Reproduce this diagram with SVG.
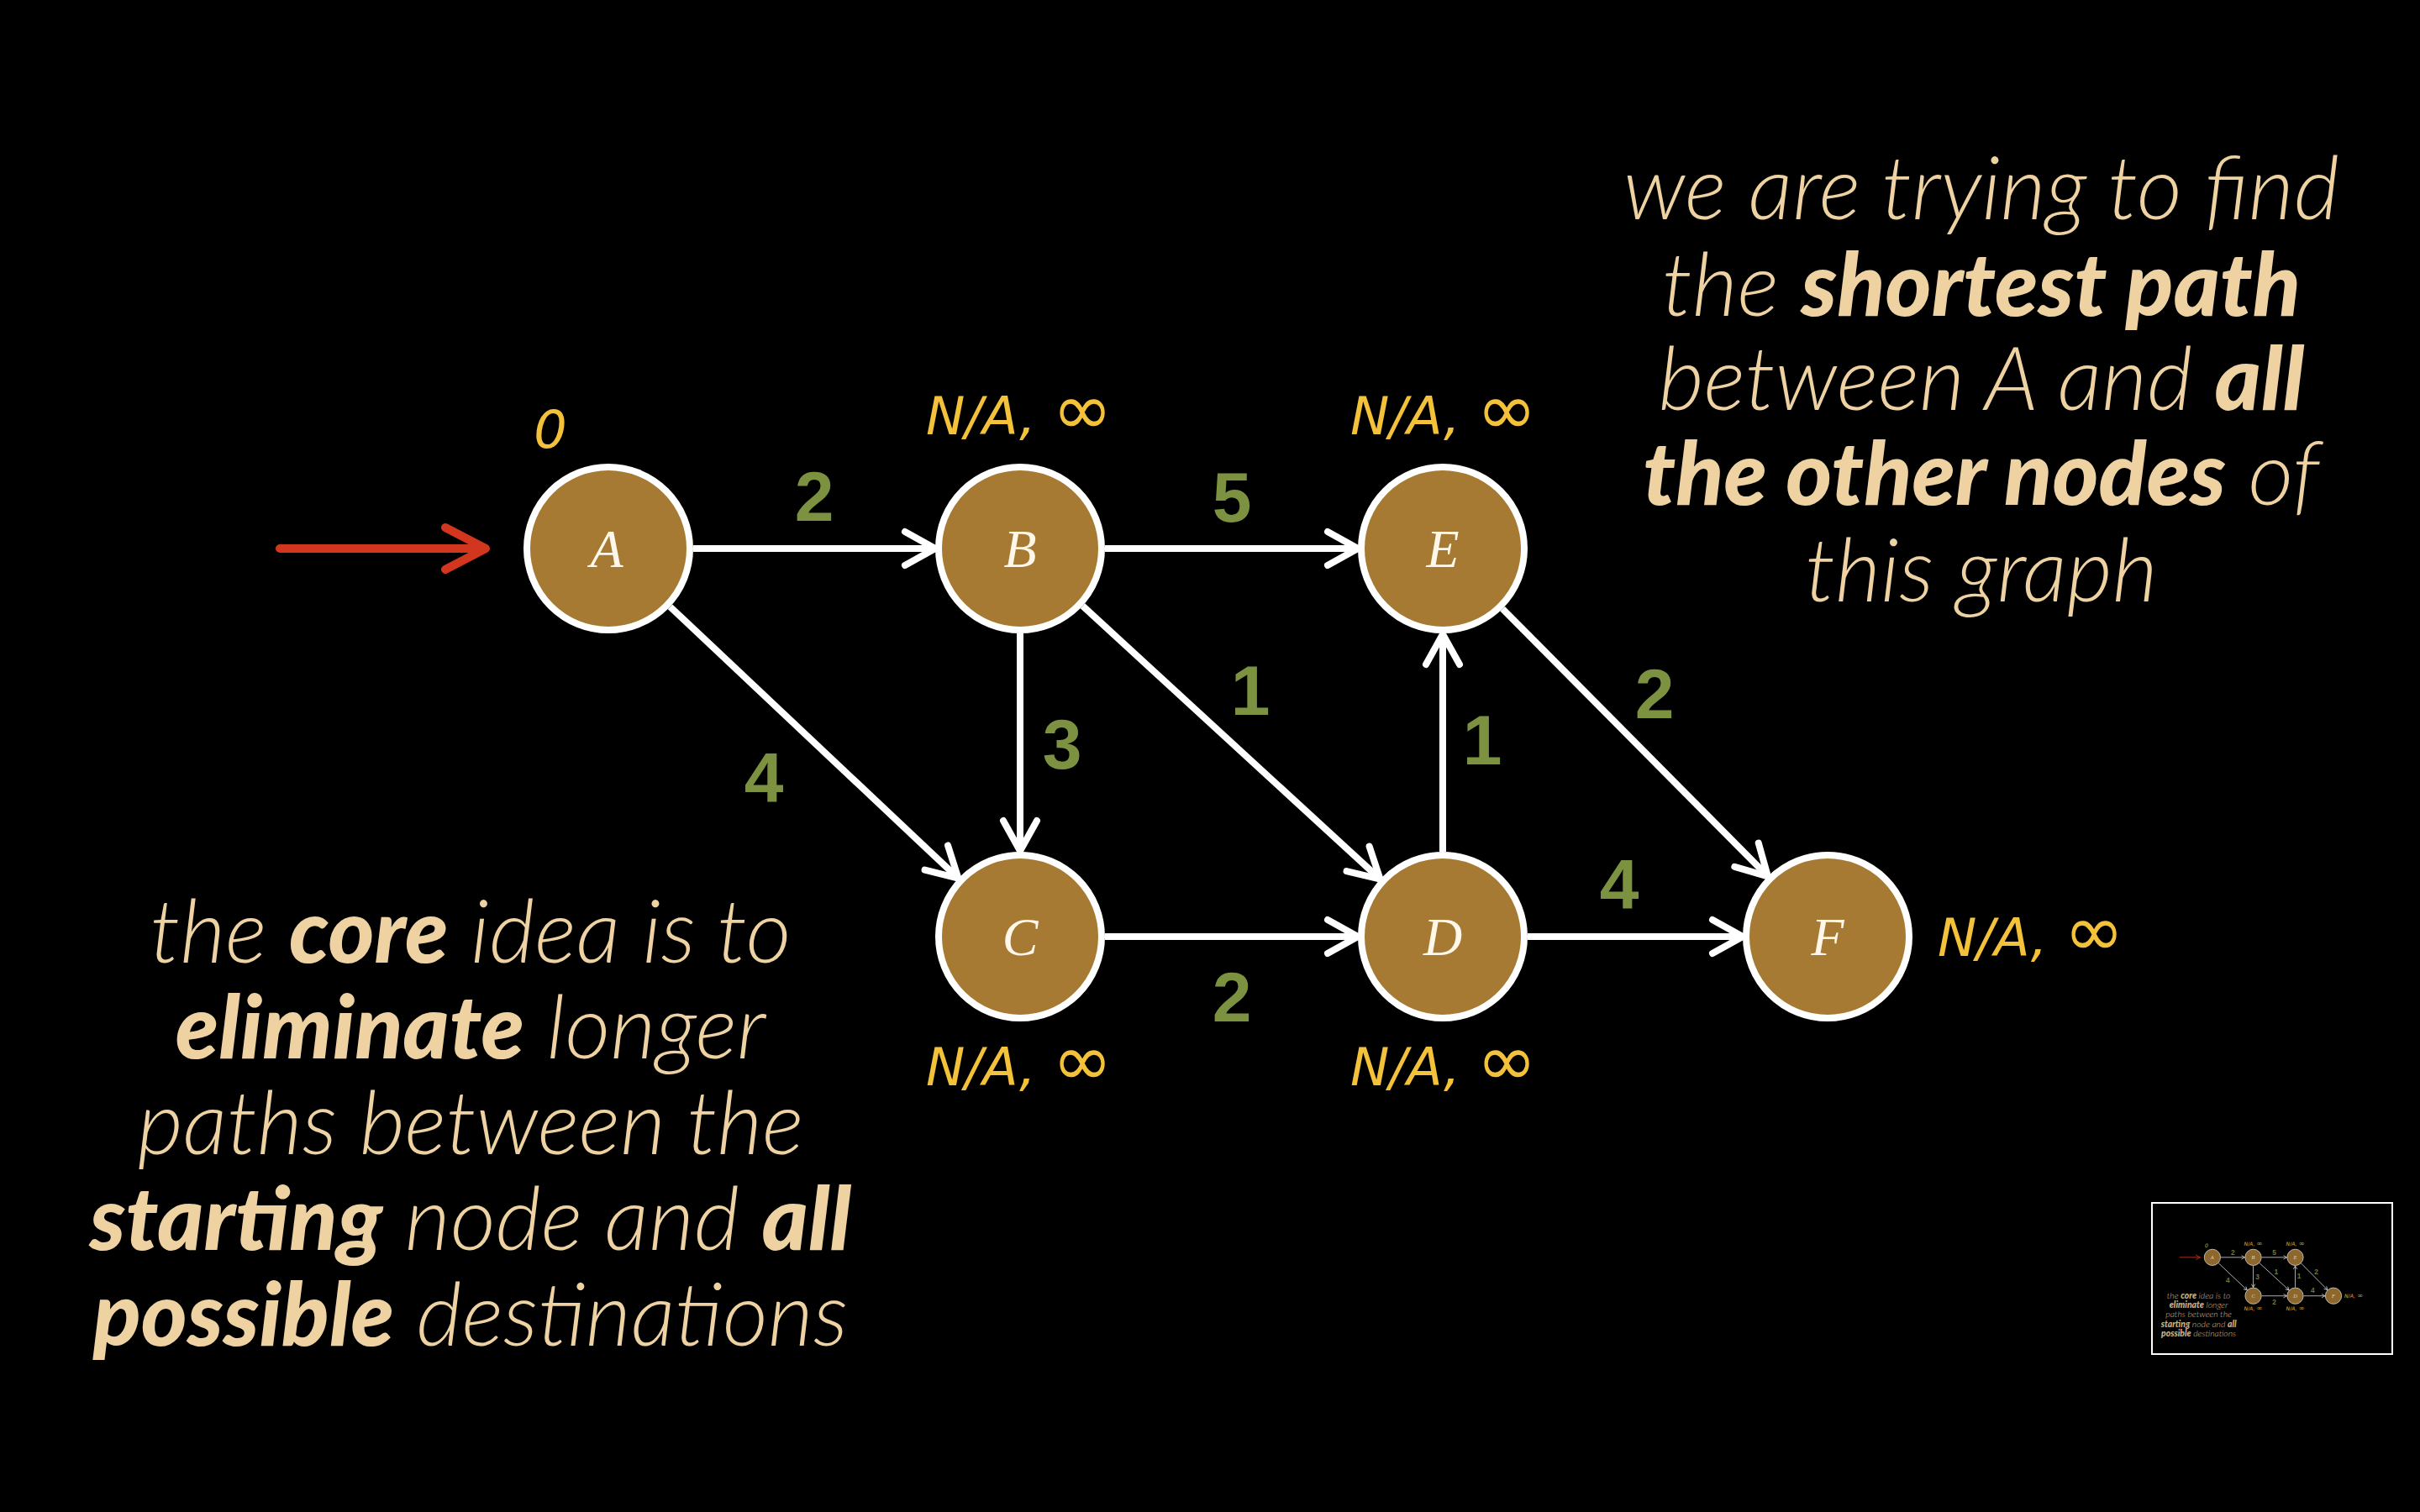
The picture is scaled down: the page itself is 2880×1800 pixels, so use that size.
<svg xmlns="http://www.w3.org/2000/svg" xmlns:xlink="http://www.w3.org/1999/xlink" width="2880" height="1800" viewBox="0 0 2880 1800">
<style>
.node circle{fill:#a67a33;stroke:#ffffff;stroke-width:8}
.node text.nm{font-family:"Liberation Serif","DejaVu Serif",serif;font-style:italic;font-size:64px;fill:#fff8ea;text-anchor:middle}
.lbl{font-family:"DejaVu Sans","Liberation Sans",sans-serif;font-style:italic;font-size:62px;fill:#f3c23a}
.inf{font-size:86px}
.w{font-family:"Liberation Sans","DejaVu Sans",sans-serif;font-weight:bold;font-size:84px;fill:#7c9241;text-anchor:middle}
.edge{fill:none;stroke:#ffffff;stroke-width:8;marker-end:url(#ah)}
.body{font-family:Lato,"Open Sans",sans-serif;font-style:italic;font-weight:300;font-size:105px;fill:#eed2a2;text-anchor:middle}
.b{font-weight:900}
</style>
<defs>
<marker id="ah" markerUnits="userSpaceOnUse" viewBox="-50 -30 60 60" markerWidth="60" markerHeight="60" refX="0" refY="0" orient="auto" overflow="visible">
<path d="M-36,-20 L0,0 L-36,20" fill="none" stroke="#ffffff" stroke-width="8" stroke-linecap="round" stroke-linejoin="round"/>
</marker>
</defs>
<rect x="0" y="0" width="2880" height="1800" fill="#000000"/>
<g id="graph">
<g id="start-arrow">
<path d="M333,653 H574 M530,628 L578,653 L530,678" fill="none" stroke="#d2361e" stroke-width="10" stroke-linecap="round" stroke-linejoin="round"/>
</g>
<g id="connectors">
<path class="edge" d="M825,653 H1113"/>
<path class="edge" d="M1315,653 H1616"/>
<path class="edge" d="M1315,1115 H1616"/>
<path class="edge" d="M1818,1115 H2074"/>
<path class="edge" d="M1214,754 V1013"/>
<path class="edge" d="M1717,1014 V755"/>
<path class="edge" d="M797.5,722.3 L1140.5,1045.7"/>
<path class="edge" d="M1288.4,721.3 L1642.6,1046.7"/>
<path class="edge" d="M1788.1,724.7 L2103.9,1043.3"/>
<text class="w" x="969" y="620">2</text>
<text class="w" x="1466" y="621">5</text>
<text class="w" x="909" y="955">4</text>
<text class="w" x="1264" y="915">3</text>
<text class="w" x="1488" y="851">1</text>
<text class="w" x="1764" y="910">1</text>
<text class="w" x="1969" y="855">2</text>
<text class="w" x="1466" y="1216">2</text>
<text class="w" x="1927" y="1082">4</text>
</g>
<g id="node-A" class="node">
<circle cx="724" cy="653" r="97"/>
<text class="nm" x="722" y="675">A</text>
<text class="lbl" x="655" y="533" text-anchor="middle" font-size="68">0</text>
</g>
<g id="node-B" class="node">
<circle cx="1214" cy="653" r="97"/>
<text class="nm" x="1214" y="675">B</text>
<text class="lbl" x="1213" y="517" text-anchor="middle">N/A, <tspan class="inf">∞</tspan></text>
</g>
<g id="node-E" class="node">
<circle cx="1717" cy="653" r="97"/>
<text class="nm" x="1717" y="675">E</text>
<text class="lbl" x="1718" y="517" text-anchor="middle">N/A, <tspan class="inf">∞</tspan></text>
</g>
<g id="node-C" class="node">
<circle cx="1214" cy="1115" r="97"/>
<text class="nm" x="1214" y="1137">C</text>
<text class="lbl" x="1213" y="1292" text-anchor="middle">N/A, <tspan class="inf">∞</tspan></text>
</g>
<g id="node-D" class="node">
<circle cx="1717" cy="1115" r="97"/>
<text class="nm" x="1717" y="1137">D</text>
<text class="lbl" x="1718" y="1292" text-anchor="middle">N/A, <tspan class="inf">∞</tspan></text>
</g>
<g id="node-F" class="node">
<circle cx="2175" cy="1115" r="97"/>
<text class="nm" x="2175" y="1137">F</text>
<text class="lbl" x="2306" y="1138">N/A, <tspan class="inf">∞</tspan></text>
</g>
</g>
<g id="left-text">
<text class="body" x="560" y="1146">the <tspan class="b">core</tspan> idea is to</text>
<text class="body" x="560" y="1260"><tspan class="b">eliminate</tspan> longer</text>
<text class="body" x="560" y="1374">paths between the</text>
<text class="body" x="560" y="1488"><tspan class="b">starting</tspan> node and <tspan class="b">all</tspan></text>
<text class="body" x="560" y="1602"><tspan class="b">possible</tspan> destinations</text>
</g>
<g id="right-text">
<text class="body" x="2358" y="261">we are trying to find</text>
<text class="body" x="2358" y="376">the <tspan class="b">shortest path</tspan></text>
<text class="body" x="2358" y="488">between A and <tspan class="b">all</tspan></text>
<text class="body" x="2358" y="601"><tspan class="b">the other nodes</tspan> of</text>
<text class="body" x="2358" y="716">this graph</text>
</g>
<g id="thumbnail">
<g transform="translate(2561,1432) scale(0.0993)" opacity="0.85">
<use xlink:href="#graph" href="#graph"/>
<use xlink:href="#left-text" href="#left-text"/>
</g>
<rect x="2561" y="1432" width="286" height="180" fill="none" stroke="#ffffff" stroke-width="2"/>
</g>
</svg>
